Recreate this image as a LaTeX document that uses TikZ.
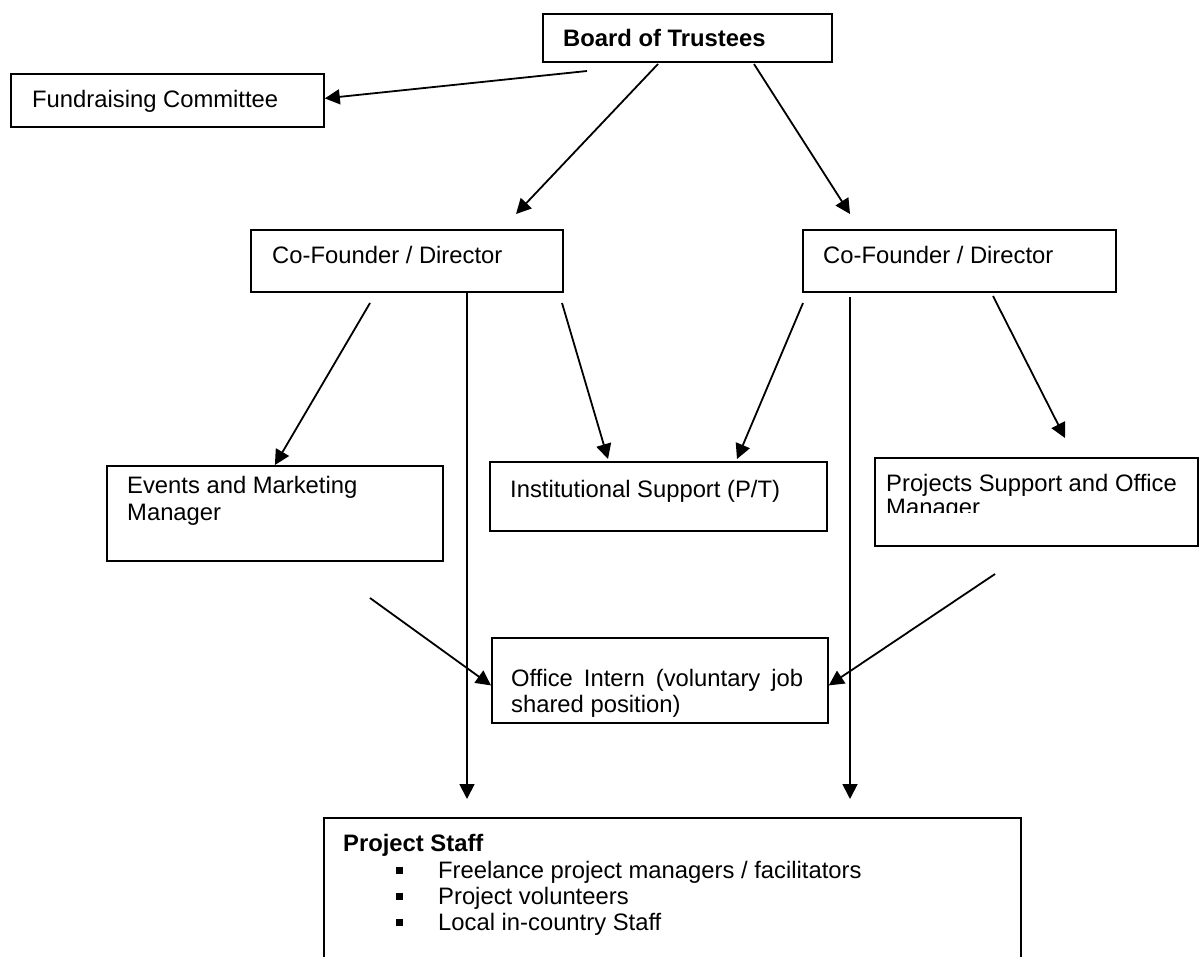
\documentclass[tikz,border=0pt]{standalone}
\usepackage{fontspec}
\setmainfont{Liberation Sans}
\usetikzlibrary{arrows.meta}
\newcommand{\chartfont}{\fontsize{23.8}{27.4}\selectfont}
\begin{document}
\begin{tikzpicture}[x=1pt, y=-1pt,
  box/.style={draw, line width=1.8pt, inner sep=0pt, anchor=north west},
  txt/.style={inner sep=0pt, anchor=base west, font=\chartfont},
  arr/.style={line width=1.8pt, -{Triangle[length=15pt, width=15pt]}}]
\useasboundingbox (0,0) rectangle (1199,956);
% boxes
\node[box, minimum width=289pt, minimum height=48pt] (board) at (542,13){};
\node[box, minimum width=313pt, minimum height=53pt] (fund) at (10,73){};
\node[box, minimum width=312pt, minimum height=62pt] (dirL) at (250,229){};
\node[box, minimum width=313pt, minimum height=62pt] (dirR) at (802,229){};
\node[box, minimum width=336pt, minimum height=95pt] (events) at (106,465){};
\node[box, minimum width=337pt, minimum height=69pt] (inst) at (489,461){};
\node[box, minimum width=323pt, minimum height=88pt] (projects) at (874,457){};
\node[box, minimum width=336pt, minimum height=85pt] (intern) at (491,637){};
\node[box, minimum width=697pt, minimum height=160pt] (staff) at (323,817){};
% texts
\node[txt, font=\chartfont\bfseries] (boardT) at (563,46){Board of Trustees};
\node[txt] (fundT) at (32,107){Fundraising Committee};
\node[txt] (dirLT) at (272,263){Co-Founder / Director};
\node[txt] (dirRT) at (823,263){Co-Founder / Director};
\node[txt] (eventsT1) at (127,493){Events and Marketing};
\node[txt] (eventsT2) at (127,520){Manager};
\node[txt] (instT) at (510,497){Institutional Support (P/T)};
\node[txt] (projT1) at (886,491){Projects Support and Office};
\begin{scope}
\clip (874,497) rectangle (1199,512);
\node[txt] (projT2) at (886,515){Manager};
\end{scope}
\node[txt] (internT1) at (511,686){\makebox[292pt][s]{Office Intern (voluntary job}};
\node[txt] (internT2) at (511,712){shared position)};
\node[txt, font=\chartfont\bfseries] (staffT) at (343,851){Project Staff};
\foreach \item [count=\i] in {{Freelance project managers / facilitators},
    {Project volunteers}, {Local in-country Staff}}{
  \node[fill, inner sep=0pt, minimum size=7pt] (bul\i) at (399,852+26*\i-8){};
  \node[txt] (item\i) at (438,852+26*\i){\item};
}
% connector ends
\coordinate (bf) at (587,71);
\coordinate (bl) at (658,64);
\coordinate (blTip) at (516,214);
\coordinate (br) at (754,64);
\coordinate (brTip) at (850,214);
\coordinate (dl1) at (370,303);
\coordinate (dl2) at (467,291);
\coordinate (dlTip) at (467,799);
\coordinate (dl3) at (562,303);
\coordinate (instTip1) at (608,459);
\coordinate (dr1) at (803,303);
\coordinate (instTip2) at (737,459);
\coordinate (dr2) at (850,297);
\coordinate (drTip) at (850,799);
\coordinate (dr3) at (993,296);
\coordinate (projTip) at (1065,438);
\coordinate (ev) at (370,598);
\coordinate (pj) at (995,574);
% connectors
\draw[arr] (bf) -- ([yshift=2pt]fund.east);
\draw[arr] (bl) -- (blTip);
\draw[arr] (br) -- (brTip);
\draw[arr] (dl1) -- (events.north);
\draw[arr] (dl2) -- (dlTip);
\draw[arr] (dl3) -- (instTip1);
\draw[arr] (dr1) -- (instTip2);
\draw[arr] (dr2) -- (drTip);
\draw[arr] (dr3) -- (projTip);
\draw[arr] (ev) -- ([yshift=-5pt]intern.west);
\draw[arr] (pj) -- ([yshift=-5pt]intern.east);
\end{tikzpicture}
\end{document}
